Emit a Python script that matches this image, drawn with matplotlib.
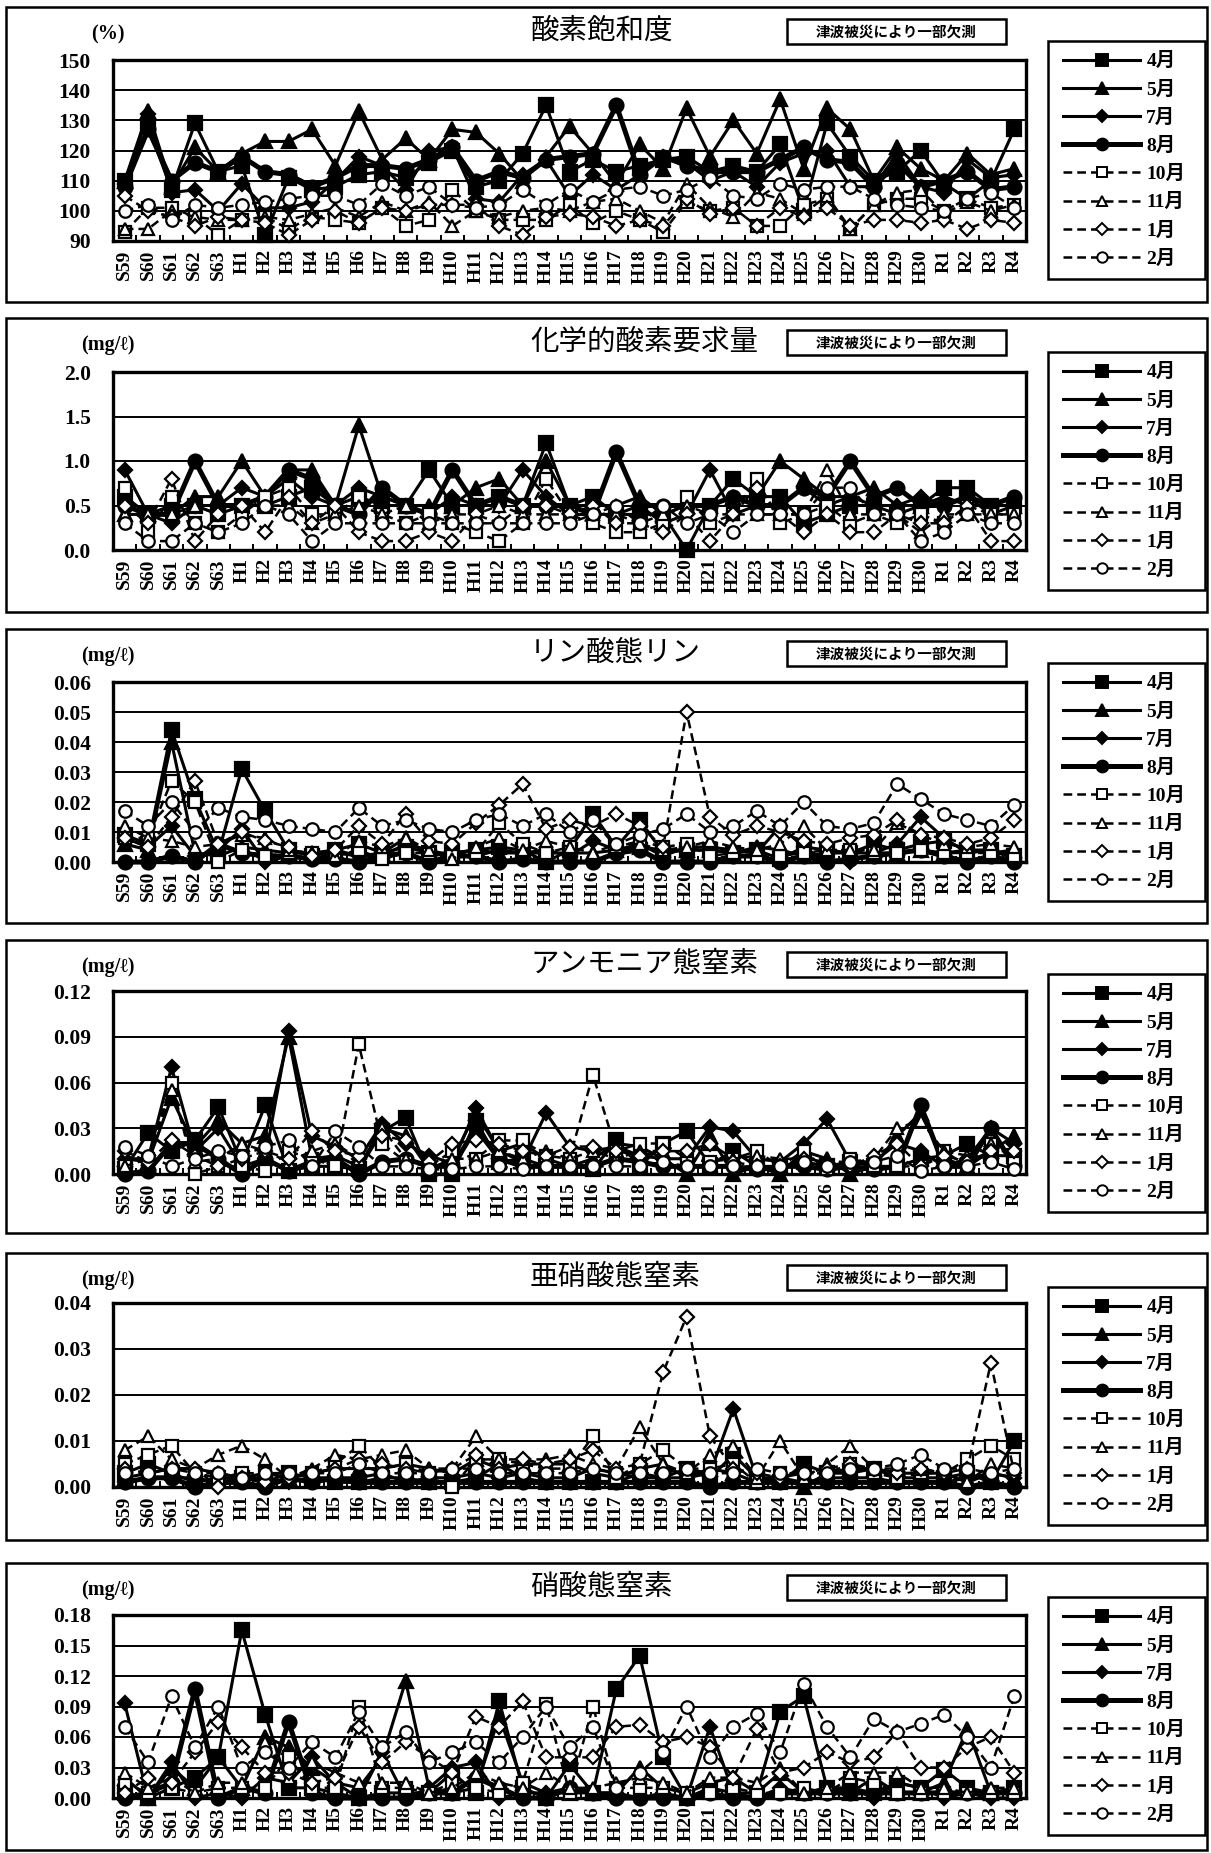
import numpy as np
import matplotlib
matplotlib.use('Agg')
import matplotlib.pyplot as plt
import matplotlib.ticker as mticker
from matplotlib.patches import Rectangle
from matplotlib.lines import Line2D

plt.rcParams['font.family'] = ['Liberation Serif', 'Noto Sans CJK JP', 'DejaVu Serif']

# 年度ラベル
years = ['S59', 'S60', 'S61', 'S62', 'S63',
         'H1', 'H2', 'H3', 'H4', 'H5', 'H6', 'H7', 'H8', 'H9', 'H10',
         'H11', 'H12', 'H13', 'H14', 'H15', 'H16', 'H17', 'H18', 'H19', 'H20',
         'H21', 'H22', 'H23', 'H24', 'H25', 'H26', 'H27', 'H28', 'H29', 'H30',
         'R1', 'R2', 'R3', 'R4']
months = ['4月', '5月', '7月', '8月', '10月', '11月', '1月', '2月']

# 酸素飽和度 (%)  行 = 4月,5月,7月,8月,10月,11月,1月,2月
do_sat = [
    [110, 128, 107, 129, 113, 115, 92, 111, 107, 108, 112, 113, 111, 116, 120, 108, 110, 119, 135, 113,
     117, 113, 115, 117, 118, 113, 115, 113, 122, 100, 129, 118, 110, 113, 120, 109, 104, 110, 127],
    [110, 133, 108, 121, 113, 119, 123, 123, 127, 115, 133, 117, 124, 117, 127, 126, 119, 110, 118, 128,
     119, 109, 122, 114, 134, 118, 130, 119, 137, 114, 134, 127, 110, 121, 114, 110, 119, 112, 114],
    [109, 132, 106, 107, 100, 109, 101, 101, 103, 110, 118, 115, 107, 120, 121, 104, 103, 112, 117, 105,
     112, 107, 112, 118, 116, 110, 113, 108, 116, 119, 120, 108, 108, 119, 108, 106, 117, 111, 112],
    [108, 127, 110, 116, 113, 118, 113, 112, 108, 111, 115, 115, 114, 117, 121, 110, 113, 111, 117, 118,
     119, 135, 112, 118, 115, 113, 113, 113, 117, 121, 117, 116, 108, 116, 108, 110, 113, 107, 108],
    [93, 101, 101, 98, 92, 97, 98, 94, 98, 97, 96, 101, 95, 97, 107, 100, 97, 97, 97, 102,
     96, 100, 97, 93, 103, 100, 101, 95, 95, 102, 104, 94, 102, 104, 104, 100, 104, 101, 102],
    [94, 94, 100, 98, 97, 97, 98, 97, 99, 101, 98, 103, 100, 103, 95, 100, 98, 100, 101, 100,
     103, 104, 100, 96, 109, 101, 98, 106, 104, 99, 105, 94, 102, 106, 107, 99, 103, 100, 102],
    [105, 100, 98, 95, 98, 97, 96, 92, 97, 100, 96, 101, 100, 102, 102, 102, 95, 92, 98, 99,
     98, 95, 97, 95, 104, 99, 101, 95, 101, 98, 101, 95, 97, 97, 96, 97, 94, 97, 96],
    [100, 102, 97, 102, 101, 102, 103, 104, 105, 105, 102, 109, 105, 108, 102, 101, 102, 107, 102, 107,
     103, 107, 108, 105, 107, 111, 105, 104, 109, 107, 108, 108, 104, 102, 101, 100, 104, 106, 101],
]

# 化学的酸素要求量 (mg/l)
cod = [
    [0.6, 0.4, 0.5, 0.5, 0.4, 0.5, 0.5, 0.6, 0.7, 0.5, 0.6, 0.5, 0.5, 0.9, 0.5, 0.5, 0.6, 0.5, 1.2, 0.5,
     0.6, 0.4, 0.4, 0.4, 0.0, 0.5, 0.8, 0.6, 0.6, 0.3, 0.4, 0.5, 0.5, 0.4, 0.5, 0.7, 0.7, 0.5, 0.5],
    [0.4, 0.4, 0.4, 0.6, 0.6, 1.0, 0.6, 0.9, 0.9, 0.5, 1.4, 0.6, 0.5, 0.5, 0.5, 0.7, 0.8, 0.5, 1.0, 0.5,
     0.5, 0.5, 0.6, 0.4, 0.5, 0.5, 0.6, 0.6, 1.0, 0.8, 0.6, 0.6, 0.7, 0.5, 0.5, 0.6, 0.5, 0.5, 0.5],
    [0.9, 0.4, 0.3, 0.5, 0.5, 0.7, 0.6, 0.8, 0.6, 0.5, 0.7, 0.6, 0.5, 0.4, 0.6, 0.5, 0.5, 0.9, 0.6, 0.4,
     0.4, 0.4, 0.5, 0.3, 0.4, 0.9, 0.4, 0.5, 0.5, 0.7, 0.5, 0.6, 0.5, 0.5, 0.6, 0.5, 0.6, 0.4, 0.5],
    [0.5, 0.4, 0.4, 1.0, 0.5, 0.5, 0.6, 0.9, 0.8, 0.5, 0.4, 0.7, 0.5, 0.4, 0.9, 0.5, 0.6, 0.5, 0.5, 0.5,
     0.4, 1.1, 0.5, 0.5, 0.5, 0.5, 0.6, 0.5, 0.5, 0.7, 0.6, 1.0, 0.6, 0.7, 0.5, 0.5, 0.6, 0.5, 0.6],
    [0.7, 0.2, 0.6, 0.3, 0.2, 0.4, 0.6, 0.7, 0.4, 0.4, 0.6, 0.4, 0.3, 0.4, 0.3, 0.2, 0.1, 0.3, 0.8, 0.4,
     0.3, 0.2, 0.2, 0.3, 0.6, 0.3, 0.4, 0.8, 0.3, 0.4, 0.5, 0.3, 0.4, 0.3, 0.4, 0.3, 0.5, 0.4, 0.4],
    [0.4, 0.4, 0.4, 0.5, 0.4, 0.5, 0.5, 0.5, 0.3, 0.4, 0.5, 0.4, 0.5, 0.3, 0.4, 0.4, 0.5, 0.4, 0.4, 0.4,
     0.4, 0.4, 0.3, 0.4, 0.5, 0.4, 0.4, 0.4, 0.4, 0.4, 0.9, 0.4, 0.4, 0.4, 0.2, 0.4, 0.4, 0.4, 0.4],
    [0.5, 0.3, 0.8, 0.1, 0.4, 0.5, 0.2, 0.6, 0.3, 0.5, 0.2, 0.1, 0.1, 0.2, 0.1, 0.4, 0.3, 0.5, 0.5, 0.4,
     0.5, 0.3, 0.3, 0.2, 0.4, 0.1, 0.4, 0.7, 0.4, 0.2, 0.4, 0.2, 0.2, 0.4, 0.3, 0.3, 0.5, 0.1, 0.1],
    [0.3, 0.1, 0.1, 0.3, 0.2, 0.3, 0.5, 0.4, 0.1, 0.3, 0.3, 0.3, 0.3, 0.3, 0.3, 0.3, 0.3, 0.3, 0.3, 0.3,
     0.4, 0.5, 0.3, 0.5, 0.3, 0.4, 0.2, 0.4, 0.4, 0.4, 0.7, 0.7, 0.4, 0.4, 0.1, 0.2, 0.4, 0.3, 0.3],
]

# リン酸態リン (mg/l)
po4_p = [
    [0.009, 0.006, 0.044, 0.021, 0.003, 0.031, 0.017, 0.004, 0.002, 0.004, 0.006, 0.003, 0.005, 0.003, 0.003,
     0.004, 0.005, 0.004, 0.000, 0.004, 0.016, 0.005, 0.014, 0.003, 0.004, 0.004, 0.003, 0.004, 0.001, 0.005,
     0.004, 0.003, 0.006, 0.004, 0.006, 0.007, 0.004, 0.004, 0.002],
    [0.006, 0.004, 0.040, 0.003, 0.002, 0.005, 0.004, 0.003, 0.003, 0.004, 0.002, 0.003, 0.008, 0.002, 0.003,
     0.004, 0.003, 0.003, 0.003, 0.003, 0.003, 0.004, 0.005, 0.004, 0.004, 0.004, 0.003, 0.005, 0.004, 0.002,
     0.003, 0.003, 0.003, 0.003, 0.004, 0.003, 0.004, 0.003, 0.004],
    [0.008, 0.005, 0.012, 0.002, 0.004, 0.011, 0.000, 0.002, 0.001, 0.003, 0.002, 0.002, 0.006, 0.004, 0.002,
     0.002, 0.004, 0.003, 0.004, 0.002, 0.007, 0.004, 0.006, 0.002, 0.005, 0.005, 0.004, 0.003, 0.012, 0.005,
     0.000, 0.000, 0.003, 0.006, 0.015, 0.008, 0.003, 0.004, 0.001],
    [0.000, 0.000, 0.002, 0.000, 0.006, 0.003, 0.002, 0.002, 0.001, 0.001, 0.000, 0.002, 0.003, 0.000, 0.002,
     0.002, 0.000, 0.001, 0.000, 0.000, 0.000, 0.003, 0.004, 0.000, 0.000, 0.000, 0.002, 0.002, 0.000, 0.002,
     0.000, 0.001, 0.002, 0.003, 0.004, 0.002, 0.000, 0.002, 0.000],
    [0.008, 0.008, 0.027, 0.020, 0.000, 0.004, 0.002, 0.003, 0.003, 0.002, 0.004, 0.001, 0.003, 0.003, 0.002,
     0.003, 0.013, 0.006, 0.003, 0.005, 0.014, 0.005, 0.007, 0.005, 0.006, 0.002, 0.003, 0.002, 0.002, 0.003,
     0.004, 0.004, 0.003, 0.003, 0.004, 0.003, 0.003, 0.003, 0.002],
    [0.012, 0.008, 0.007, 0.005, 0.006, 0.009, 0.008, 0.004, 0.003, 0.002, 0.007, 0.005, 0.008, 0.004, 0.001,
     0.005, 0.008, 0.004, 0.007, 0.005, 0.003, 0.006, 0.006, 0.004, 0.005, 0.007, 0.005, 0.004, 0.006, 0.012,
     0.004, 0.004, 0.004, 0.013, 0.009, 0.006, 0.005, 0.006, 0.005],
    [0.008, 0.005, 0.015, 0.027, 0.006, 0.010, 0.007, 0.005, 0.002, 0.004, 0.012, 0.006, 0.016, 0.007, 0.006,
     0.013, 0.019, 0.026, 0.011, 0.014, 0.012, 0.016, 0.012, 0.005, 0.050, 0.015, 0.009, 0.012, 0.010, 0.007,
     0.006, 0.008, 0.009, 0.014, 0.009, 0.008, 0.006, 0.008, 0.014],
    [0.017, 0.012, 0.020, 0.010, 0.018, 0.015, 0.014, 0.012, 0.011, 0.010, 0.018, 0.012, 0.014, 0.011, 0.010,
     0.014, 0.016, 0.012, 0.016, 0.010, 0.014, 0.006, 0.009, 0.011, 0.016, 0.010, 0.012, 0.017, 0.012, 0.020,
     0.012, 0.011, 0.013, 0.026, 0.021, 0.016, 0.014, 0.012, 0.019],
]

# アンモニア態窒素 (mg/l)
nh4_n = [
    [0.003, 0.027, 0.015, 0.022, 0.044, 0.007, 0.045, 0.002, 0.005, 0.005, 0.003, 0.028, 0.037, 0.000, 0.000,
     0.035, 0.008, 0.010, 0.005, 0.006, 0.003, 0.022, 0.005, 0.020, 0.028, 0.006, 0.015, 0.005, 0.005, 0.008,
     0.005, 0.008, 0.005, 0.005, 0.010, 0.012, 0.020, 0.012, 0.012],
    [0.010, 0.008, 0.050, 0.018, 0.035, 0.020, 0.025, 0.090, 0.010, 0.012, 0.005, 0.030, 0.025, 0.003, 0.010,
     0.040, 0.015, 0.020, 0.010, 0.005, 0.010, 0.020, 0.018, 0.010, 0.000, 0.025, 0.000, 0.005, 0.000, 0.015,
     0.010, 0.000, 0.005, 0.025, 0.040, 0.010, 0.005, 0.015, 0.025],
    [0.010, 0.010, 0.070, 0.015, 0.030, 0.005, 0.010, 0.094, 0.025, 0.018, 0.010, 0.033, 0.020, 0.012, 0.007,
     0.043, 0.015, 0.008, 0.040, 0.018, 0.015, 0.018, 0.012, 0.010, 0.010, 0.031, 0.028, 0.010, 0.008, 0.020,
     0.036, 0.008, 0.008, 0.020, 0.015, 0.005, 0.010, 0.030, 0.020],
    [0.000, 0.002, 0.020, 0.020, 0.010, 0.000, 0.010, 0.002, 0.008, 0.010, 0.000, 0.008, 0.010, 0.005, 0.005,
     0.030, 0.010, 0.005, 0.005, 0.005, 0.005, 0.010, 0.008, 0.005, 0.005, 0.005, 0.005, 0.003, 0.005, 0.005,
     0.003, 0.005, 0.003, 0.005, 0.045, 0.005, 0.005, 0.030, 0.005],
    [0.005, 0.010, 0.060, 0.000, 0.005, 0.005, 0.002, 0.015, 0.010, 0.005, 0.085, 0.020, 0.008, 0.005, 0.015,
     0.010, 0.022, 0.022, 0.012, 0.010, 0.065, 0.015, 0.020, 0.020, 0.010, 0.008, 0.010, 0.015, 0.005, 0.015,
     0.003, 0.010, 0.005, 0.005, 0.005, 0.015, 0.005, 0.020, 0.010],
    [0.005, 0.010, 0.055, 0.008, 0.010, 0.020, 0.015, 0.008, 0.015, 0.020, 0.010, 0.030, 0.010, 0.005, 0.010,
     0.010, 0.015, 0.010, 0.015, 0.010, 0.015, 0.010, 0.015, 0.015, 0.015, 0.020, 0.010, 0.012, 0.010, 0.010,
     0.008, 0.008, 0.010, 0.030, 0.035, 0.015, 0.012, 0.020, 0.015],
    [0.015, 0.008, 0.022, 0.012, 0.005, 0.010, 0.015, 0.010, 0.028, 0.015, 0.012, 0.025, 0.022, 0.008, 0.020,
     0.022, 0.020, 0.015, 0.012, 0.018, 0.018, 0.015, 0.012, 0.015, 0.015, 0.020, 0.008, 0.005, 0.005, 0.010,
     0.005, 0.005, 0.012, 0.020, 0.005, 0.012, 0.008, 0.015, 0.015],
    [0.018, 0.012, 0.005, 0.010, 0.015, 0.012, 0.018, 0.022, 0.005, 0.028, 0.018, 0.005, 0.005, 0.003, 0.003,
     0.005, 0.005, 0.003, 0.005, 0.005, 0.005, 0.005, 0.005, 0.008, 0.005, 0.005, 0.005, 0.005, 0.005, 0.008,
     0.005, 0.008, 0.008, 0.012, 0.002, 0.005, 0.005, 0.008, 0.003],
]

# 亜硝酸態窒素 (mg/l)
no2_n = [
    [0.003, 0.005, 0.003, 0.001, 0.002, 0.002, 0.001, 0.003, 0.002, 0.001, 0.001, 0.002, 0.002, 0.001, 0.001,
     0.002, 0.005, 0.002, 0.001, 0.001, 0.001, 0.001, 0.003, 0.002, 0.004, 0.002, 0.007, 0.002, 0.001, 0.005,
     0.003, 0.003, 0.004, 0.002, 0.002, 0.002, 0.003, 0.001, 0.010],
    [0.002, 0.003, 0.004, 0.004, 0.003, 0.002, 0.003, 0.002, 0.003, 0.004, 0.004, 0.004, 0.005, 0.004, 0.003,
     0.006, 0.004, 0.005, 0.005, 0.005, 0.003, 0.002, 0.004, 0.005, 0.002, 0.004, 0.003, 0.001, 0.002, 0.000,
     0.003, 0.004, 0.004, 0.003, 0.003, 0.003, 0.001, 0.003, 0.002],
    [0.001, 0.002, 0.002, 0.002, 0.001, 0.002, 0.002, 0.001, 0.002, 0.002, 0.002, 0.003, 0.001, 0.002, 0.002,
     0.003, 0.002, 0.003, 0.002, 0.002, 0.004, 0.003, 0.002, 0.002, 0.002, 0.003, 0.017, 0.002, 0.002, 0.001,
     0.002, 0.002, 0.002, 0.001, 0.001, 0.001, 0.002, 0.003, 0.002],
    [0.001, 0.002, 0.002, 0.000, 0.001, 0.001, 0.000, 0.002, 0.001, 0.002, 0.001, 0.001, 0.001, 0.001, 0.001,
     0.001, 0.001, 0.001, 0.001, 0.001, 0.001, 0.001, 0.001, 0.001, 0.001, 0.000, 0.001, 0.001, 0.001, 0.001,
     0.001, 0.001, 0.001, 0.001, 0.001, 0.001, 0.000, 0.001, 0.000],
    [0.005, 0.007, 0.009, 0.003, 0.002, 0.003, 0.003, 0.003, 0.003, 0.005, 0.009, 0.004, 0.005, 0.003, 0.000,
     0.006, 0.006, 0.005, 0.004, 0.004, 0.011, 0.002, 0.005, 0.008, 0.004, 0.004, 0.005, 0.001, 0.003, 0.003,
     0.003, 0.005, 0.003, 0.002, 0.003, 0.003, 0.006, 0.009, 0.006],
    [0.008, 0.011, 0.006, 0.004, 0.007, 0.009, 0.006, 0.002, 0.004, 0.007, 0.006, 0.007, 0.008, 0.004, 0.004,
     0.011, 0.006, 0.006, 0.006, 0.007, 0.005, 0.004, 0.013, 0.005, 0.003, 0.007, 0.009, 0.002, 0.010, 0.002,
     0.005, 0.009, 0.004, 0.004, 0.004, 0.003, 0.001, 0.005, 0.004],
    [0.004, 0.003, 0.004, 0.004, 0.000, 0.002, 0.001, 0.002, 0.003, 0.004, 0.006, 0.005, 0.004, 0.003, 0.004,
     0.007, 0.004, 0.006, 0.005, 0.006, 0.008, 0.004, 0.005, 0.025, 0.037, 0.011, 0.004, 0.003, 0.002, 0.003,
     0.004, 0.005, 0.004, 0.003, 0.004, 0.003, 0.004, 0.027, 0.003],
    [0.003, 0.003, 0.004, 0.003, 0.003, 0.002, 0.003, 0.003, 0.003, 0.003, 0.005, 0.003, 0.003, 0.003, 0.004,
     0.004, 0.003, 0.003, 0.003, 0.003, 0.004, 0.003, 0.003, 0.003, 0.004, 0.003, 0.003, 0.004, 0.003, 0.003,
     0.003, 0.004, 0.004, 0.005, 0.007, 0.004, 0.004, 0.003, 0.004],
]

# 硝酸態窒素 (mg/l)
no3_n = [
    [0.005, 0.000, 0.010, 0.020, 0.040, 0.165, 0.082, 0.010, 0.010, 0.005, 0.000, 0.005, 0.005, 0.005, 0.025,
     0.005, 0.095, 0.010, 0.000, 0.033, 0.005, 0.107, 0.140, 0.040, 0.000, 0.010, 0.005, 0.005, 0.085, 0.100,
     0.010, 0.010, 0.005, 0.015, 0.010, 0.028, 0.010, 0.005, 0.010],
    [0.020, 0.000, 0.030, 0.010, 0.040, 0.010, 0.060, 0.050, 0.030, 0.015, 0.010, 0.040, 0.115, 0.010, 0.005,
     0.010, 0.080, 0.015, 0.005, 0.005, 0.005, 0.005, 0.030, 0.010, 0.005, 0.015, 0.020, 0.005, 0.025, 0.005,
     0.010, 0.005, 0.020, 0.005, 0.005, 0.015, 0.068, 0.005, 0.005],
    [0.093, 0.000, 0.035, 0.000, 0.005, 0.000, 0.020, 0.015, 0.040, 0.015, 0.000, 0.045, 0.000, 0.010, 0.030,
     0.035, 0.000, 0.005, 0.005, 0.010, 0.005, 0.005, 0.000, 0.005, 0.000, 0.070, 0.005, 0.000, 0.010, 0.005,
     0.005, 0.010, 0.000, 0.015, 0.010, 0.000, 0.005, 0.000, 0.000],
    [0.000, 0.005, 0.015, 0.107, 0.000, 0.010, 0.005, 0.075, 0.005, 0.000, 0.000, 0.000, 0.000, 0.005, 0.005,
     0.020, 0.010, 0.000, 0.000, 0.010, 0.005, 0.000, 0.000, 0.000, 0.000, 0.005, 0.000, 0.000, 0.005, 0.005,
     0.005, 0.005, 0.005, 0.005, 0.005, 0.005, 0.005, 0.005, 0.005],
    [0.015, 0.005, 0.010, 0.005, 0.010, 0.010, 0.010, 0.040, 0.010, 0.010, 0.090, 0.010, 0.010, 0.005, 0.015,
     0.010, 0.005, 0.015, 0.092, 0.005, 0.090, 0.010, 0.010, 0.010, 0.005, 0.005, 0.010, 0.005, 0.005, 0.010,
     0.005, 0.020, 0.015, 0.005, 0.005, 0.005, 0.005, 0.005, 0.005],
    [0.025, 0.010, 0.020, 0.005, 0.015, 0.015, 0.055, 0.020, 0.035, 0.025, 0.015, 0.015, 0.015, 0.005, 0.010,
     0.025, 0.015, 0.010, 0.025, 0.010, 0.010, 0.015, 0.020, 0.015, 0.005, 0.020, 0.020, 0.015, 0.030, 0.005,
     0.010, 0.025, 0.025, 0.025, 0.010, 0.010, 0.005, 0.010, 0.010],
    [0.005, 0.020, 0.015, 0.045, 0.075, 0.050, 0.025, 0.025, 0.015, 0.020, 0.070, 0.035, 0.055, 0.040, 0.025,
     0.080, 0.070, 0.095, 0.040, 0.040, 0.040, 0.070, 0.072, 0.055, 0.060, 0.050, 0.020, 0.068, 0.025, 0.030,
     0.045, 0.035, 0.040, 0.065, 0.030, 0.030, 0.050, 0.060, 0.025],
    [0.070, 0.035, 0.100, 0.050, 0.090, 0.030, 0.045, 0.030, 0.055, 0.040, 0.085, 0.050, 0.065, 0.035, 0.045,
     0.055, 0.035, 0.060, 0.090, 0.050, 0.070, 0.010, 0.025, 0.045, 0.090, 0.040, 0.070, 0.083, 0.045, 0.112,
     0.070, 0.040, 0.078, 0.065, 0.073, 0.082, 0.060, 0.030, 0.100],
]

W, H = 1211, 1853
fig = plt.figure(figsize=(W / 100, H / 100), dpi=100)


def fx(px):
    return px / W


def fy(py):
    return 1 - py / H


# 系列のスタイル
markers = ['s', '^', 'D', 'o', 's', '^', 'D', 'o']
msizes = [10.5, 10.5, 7.5, 10, 9, 9, 7.5, 9]
faces = ['black'] * 4 + ['white'] * 4
widths = [2.2, 2.2, 2.2, 3.6, 1.8, 1.8, 1.8, 1.8]
styles = ['-'] * 4 + [(0, (3.5, 2))] * 4


def draw_panel(box_top, box_bot, plot_top, plot_bot, title, unit, data, ymin, ymax, ystep, fmt):
    # 外枠
    fig.patches.append(Rectangle((fx(6), fy(box_bot)), fx(1207) - fx(6), fy(box_top) - fy(box_bot),
                                 transform=fig.transFigure, fill=False, ec='black', lw=1.8))
    ax = fig.add_axes([fx(113), fy(plot_bot), fx(1026) - fx(113), fy(plot_top) - fy(plot_bot)])
    x = np.arange(len(years))
    for k, vals in enumerate(data):
        ax.plot(x, vals, color='black', linestyle=styles[k], lw=widths[k], marker=markers[k],
                ms=msizes[k], mfc=faces[k], mec='black', mew=1.6, clip_on=False, zorder=3 + k)
    ax.set_xlim(-0.5, len(years) - 0.5)
    ax.set_ylim(ymin, ymax)
    ax.yaxis.set_major_locator(mticker.MultipleLocator(ystep))
    ax.yaxis.set_major_formatter(mticker.FormatStrFormatter(fmt))
    ax.grid(axis='y', color='black', lw=1.4)
    ax.set_axisbelow(True)
    for s in ax.spines.values():
        s.set_linewidth(2.4)
    ax.set_xticks(x)
    ax.set_xticklabels(years, rotation=90, fontsize=14, fontweight='bold')
    ax.set_xticks(np.arange(len(years) + 1) - 0.5, minor=True)
    ax.tick_params(axis='x', which='major', length=0, pad=6)
    ax.tick_params(axis='x', which='minor', direction='in', length=4, width=1.4)
    ax.tick_params(axis='y', length=0, pad=16, labelsize=15.5)
    for lb in ax.get_yticklabels():
        lb.set_fontweight('bold')

    # 単位とタイトル
    fig.text(fx(108), fy(box_top + 27), unit, ha='center', va='center', fontsize=14.5, fontweight='bold')
    fig.text(fx(530), fy(box_top + 24), title, ha='left', va='center', fontsize=20.5,
             family='Noto Sans CJK JP')
    # 注記
    fig.patches.append(Rectangle((fx(787), fy(box_top + 37)), fx(1006) - fx(787), fy(box_top + 12) - fy(box_top + 37),
                                 transform=fig.transFigure, fill=False, ec='black', lw=1.8))
    fig.text(fx(896), fy(box_top + 24.5), '津波被災により一部欠測', ha='center', va='center',
             fontsize=10.5, fontweight='bold', family='Noto Sans CJK JP')

    # 凡例
    fig.patches.append(Rectangle((fx(1048), fy(box_top + 272)), fx(1205) - fx(1048), fy(box_top + 34) - fy(box_top + 272),
                                 transform=fig.transFigure, fill=False, ec='black', lw=1.8))
    handles = [Line2D([], [], color='black', linestyle=styles[k], lw=widths[k], marker=markers[k],
                      ms=msizes[k] - 1.5, mfc=faces[k], mec='black', mew=1.4) for k in range(len(months))]
    leg = fig.legend(handles, months, loc='center', bbox_to_anchor=(fx(1124), fy(box_top + 153)),
                     frameon=False, fontsize=14, handlelength=4.0, handletextpad=0.3, labelspacing=0.52)
    for t in leg.get_texts():
        t.set_fontweight('bold')
    return ax


draw_panel(7, 302, 60, 241, '酸素飽和度', '(%)', do_sat, 90, 150, 10, '%d')
draw_panel(318, 612, 372, 550, '化学的酸素要求量', '(mg/ℓ)', cod, 0, 2.0, 0.5, '%.1f')
draw_panel(629, 923, 682, 862, 'リン酸態リン', '(mg/ℓ)', po4_p, 0, 0.06, 0.01, '%.2f')
draw_panel(940, 1233, 991, 1174, 'アンモニア態窒素', '(mg/ℓ)', nh4_n, 0, 0.12, 0.03, '%.2f')
draw_panel(1253, 1540, 1303, 1487, '亜硝酸態窒素', '(mg/ℓ)', no2_n, 0, 0.04, 0.01, '%.2f')
draw_panel(1563, 1850, 1615, 1798, '硝酸態窒素', '(mg/ℓ)', no3_n, 0, 0.18, 0.03, '%.2f')

fig.savefig('out.png', dpi=100, facecolor='white')
